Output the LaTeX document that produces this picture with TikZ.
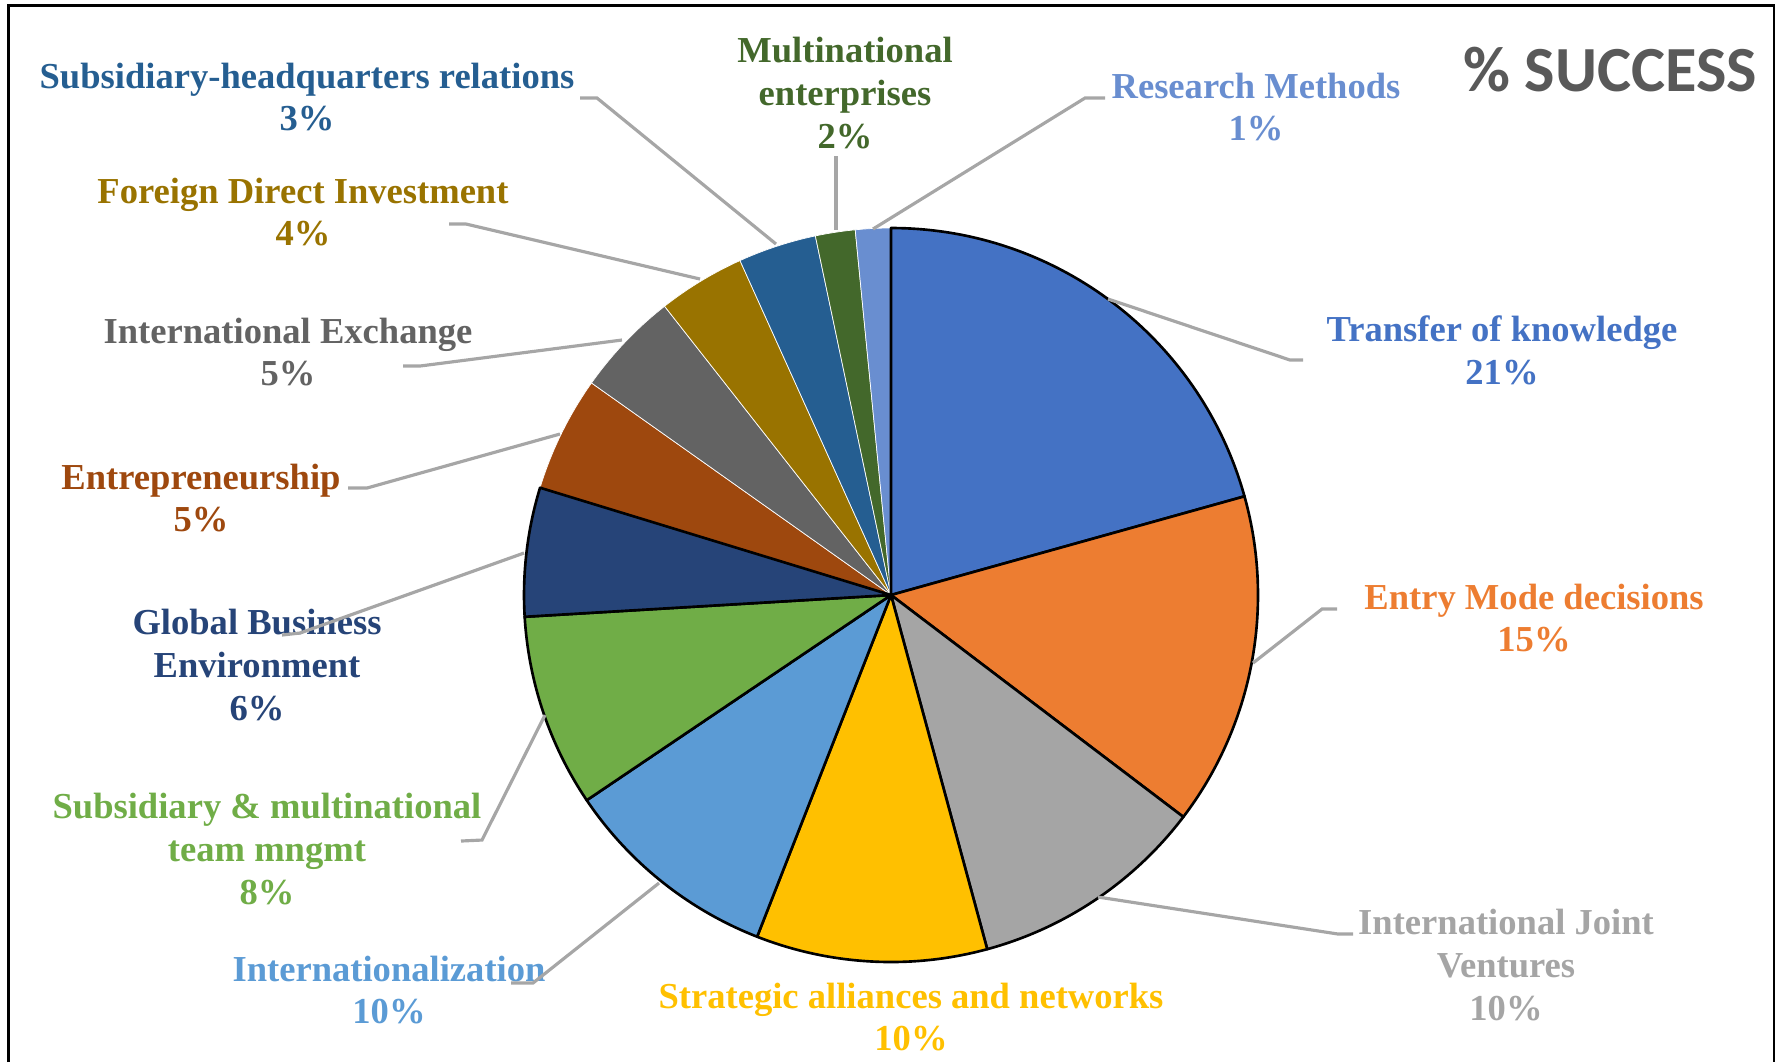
\documentclass[tikz,border=0pt]{standalone}
\usepackage{fontspec}
\setmainfont{Liberation Serif}
\newfontfamily\titlefont{Carlito}
% slice colours
\definecolor{cTok}{HTML}{4472C4}
\definecolor{cEmd}{HTML}{ED7D31}
\definecolor{cIjv}{HTML}{A5A5A5}
\definecolor{cSa}{HTML}{FFC000}
\definecolor{cInt}{HTML}{5B9BD5}
\definecolor{cSmt}{HTML}{70AD47}
\definecolor{cGbe}{HTML}{264478}
\definecolor{cEnt}{HTML}{9E480E}
\definecolor{cIex}{HTML}{636363}
\definecolor{cFdi}{HTML}{997300}
\definecolor{cShq}{HTML}{255E91}
\definecolor{cMne}{HTML}{43682B}
\definecolor{cRm}{HTML}{698ED0}
\definecolor{cLead}{HTML}{A6A6A6}
\definecolor{cTitle}{HTML}{595959}
\begin{document}
\begin{tikzpicture}[x=0.01cm,y=-0.01cm,
	lbl/.style={align=center, inner sep=0pt, font=\fontsize{10.4}{12.2}\selectfont\bfseries},
	leader/.style={draw=cLead, line width=0.9pt},
	slice/.style={draw=black, line width=0.75pt, line join=round},
	flat/.style={draw=white, line width=0.2pt}]
			% --- Parameters ---
			\def\cx{891}      % pie centre x
			\def\cy{595}      % pie centre y
			\def\rad{367}     % pie radius
			\useasboundingbox (0,0) rectangle (1777,1062);
			% frame (open at the bottom)
			\draw[line width=0.8pt] (8.5,1062) -- (8.5,5.5) -- (1774,5.5) -- (1774,1062);
			\coordinate (c) at (\cx,\cy);
			% --- Small slices (no outline) ---
			\filldraw[flat, fill=cEnt] (c) -- ++(197:\rad) arc[start angle=197, end angle=215.3, radius=\rad] -- cycle;
			\filldraw[flat, fill=cIex] (c) -- ++(215.3:\rad) arc[start angle=215.3, end angle=231.9, radius=\rad] -- cycle;
			\filldraw[flat, fill=cFdi] (c) -- ++(231.9:\rad) arc[start angle=231.9, end angle=245.7, radius=\rad] -- cycle;
			\filldraw[flat, fill=cShq] (c) -- ++(245.7:\rad) arc[start angle=245.7, end angle=258.1, radius=\rad] -- cycle;
			\filldraw[flat, fill=cMne] (c) -- ++(258.1:\rad) arc[start angle=258.1, end angle=264.4, radius=\rad] -- cycle;
			\filldraw[flat, fill=cRm] (c) -- ++(264.4:\rad) arc[start angle=264.4, end angle=270, radius=\rad] -- cycle;
			% --- Large slices (black outline) ---
			\filldraw[slice, fill=cTok] (c) -- ++(-90:\rad) arc[start angle=-90, end angle=-15.6, radius=\rad] -- cycle;
			\filldraw[slice, fill=cEmd] (c) -- ++(-15.6:\rad) arc[start angle=-15.6, end angle=37.2, radius=\rad] -- cycle;
			\filldraw[slice, fill=cIjv] (c) -- ++(37.2:\rad) arc[start angle=37.2, end angle=74.8, radius=\rad] -- cycle;
			\filldraw[slice, fill=cSa] (c) -- ++(74.8:\rad) arc[start angle=74.8, end angle=111.4, radius=\rad] -- cycle;
			\filldraw[slice, fill=cInt] (c) -- ++(111.4:\rad) arc[start angle=111.4, end angle=146, radius=\rad] -- cycle;
			\filldraw[slice, fill=cSmt] (c) -- ++(146:\rad) arc[start angle=146, end angle=176.6, radius=\rad] -- cycle;
			\filldraw[slice, fill=cGbe] (c) -- ++(176.6:\rad) arc[start angle=176.6, end angle=197, radius=\rad] -- cycle;
			% --- Title ---
			\node[inner sep=0pt, text=cTitle, font=\titlefont\fontsize{18.3}{20}\selectfont\bfseries] (title) at (1610,70) {\% SUCCESS};
			% --- Labels ---
			\node[lbl, text=cRm]  (rm)  at (1256,107) {Research Methods\\1\%};
			\node[lbl, text=cMne] (mne) at (845,93)   {Multinational\\enterprises\\2\%};
			\node[lbl, text=cShq] (shq) at (307,97)   {Subsidiary-headquarters relations\\3\%};
			\node[lbl, text=cFdi] (fdi) at (303,212)  {Foreign Direct Investment\\4\%};
			\node[lbl, text=cIex] (iex) at (288,352)  {International Exchange\\5\%};
			\node[lbl, text=cEnt] (ent) at (201,498)  {Entrepreneurship\\5\%};
			\node[lbl, text=cGbe] (gbe) at (257,665)  {Global Business\\Environment\\6\%};
			\node[lbl, text=cSmt] (smt) at (267,849)  {Subsidiary \& multinational\\team mngmt\\8\%};
			\node[lbl, text=cInt] (int) at (389,990)  {Internationalization\\10\%};
			\node[lbl, text=cSa]  (sa)  at (911,1017) {Strategic alliances and networks\\10\%};
			\node[lbl, text=cIjv] (ijv) at (1506,965) {International Joint\\Ventures\\10\%};
			\node[lbl, text=cEmd] (emd) at (1534,618) {Entry Mode decisions\\15\%};
			\node[lbl, text=cTok] (tok) at (1502,350) {Transfer of knowledge\\21\%};
			% --- Leader lines: pie edge -> knee -> label ---
			\coordinate (rm-a) at (873,229);   \coordinate (rm-b) at (1085,98);  \coordinate (rm-c) at (1105,98);
			\coordinate (mne-a) at (836,230);  \coordinate (mne-b) at (836,156);
			\coordinate (shq-a) at (776,244);  \coordinate (shq-b) at (597,98);  \coordinate (shq-c) at (580,98);
			\coordinate (fdi-a) at (700,279);  \coordinate (fdi-b) at (466,224); \coordinate (fdi-c) at (449,224);
			\coordinate (iex-a) at (622,340);  \coordinate (iex-b) at (420,366); \coordinate (iex-c) at (403,366);
			\coordinate (ent-a) at (560,434);  \coordinate (ent-b) at (367,488); \coordinate (ent-c) at (348,488);
			\coordinate (gbe-a) at (524,553);  \coordinate (gbe-b) at (300,633); \coordinate (gbe-c) at (282,635);
			\coordinate (smt-a) at (545,715);  \coordinate (smt-b) at (482,840); \coordinate (smt-c) at (461,841);
			\coordinate (int-a) at (659,883);  \coordinate (int-b) at (533,983); \coordinate (int-c) at (511,983);
			\coordinate (ijv-a) at (1098,897); \coordinate (ijv-b) at (1338,934); \coordinate (ijv-c) at (1353,934);
			\coordinate (emd-a) at (1253,663); \coordinate (emd-b) at (1322,609); \coordinate (emd-c) at (1337,609);
			\coordinate (tok-a) at (1108,299); \coordinate (tok-b) at (1290,360); \coordinate (tok-c) at (1303,360);
			\draw[leader] (rm-a) -- (rm-b) -- (rm-c);
			\draw[leader] (mne-a) -- (mne-b);
			\draw[leader] (shq-a) -- (shq-b) -- (shq-c);
			\draw[leader] (fdi-a) -- (fdi-b) -- (fdi-c);
			\draw[leader] (iex-a) -- (iex-b) -- (iex-c);
			\draw[leader] (ent-a) -- (ent-b) -- (ent-c);
			\draw[leader] (gbe-a) -- (gbe-b) -- (gbe-c);
			\draw[leader] (smt-a) -- (smt-b) -- (smt-c);
			\draw[leader] (int-a) -- (int-b) -- (int-c);
			\draw[leader] (ijv-a) -- (ijv-b) -- (ijv-c);
			\draw[leader] (emd-a) -- (emd-b) -- (emd-c);
			\draw[leader] (tok-a) -- (tok-b) -- (tok-c);
\end{tikzpicture}
\end{document}
